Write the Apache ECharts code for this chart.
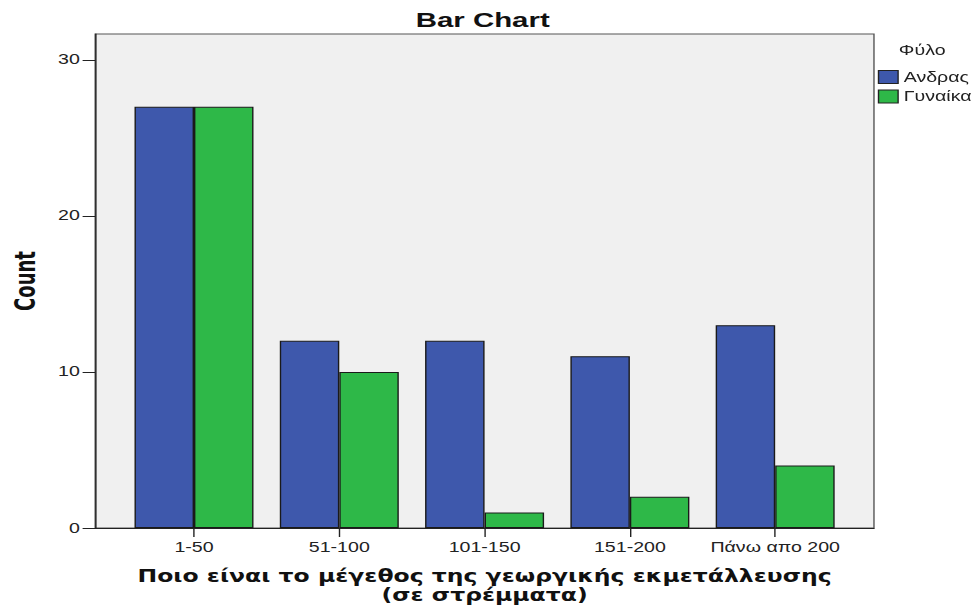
<!DOCTYPE html>
<html>
<head>
<meta charset="utf-8">
<script src="https://cdn.jsdelivr.net/npm/echarts@6/dist/echarts.min.js"></script>
<style>
html,body{margin:0;padding:0;background:#fff;overflow:hidden;}
#c{width:698.571px;height:610px;transform:scaleX(1.4);transform-origin:0 0;}
</style>
</head>
<body>
<div id="c"></div>
<script>
const categories = ['1-50', '51-100', '101-150', '151-200', 'Πάνω απο 200'];
const seriesNames = ['Ανδρας', 'Γυναίκα'];
const maleCounts = [27, 12, 12, 11, 13];
const femaleCounts = [27, 10, 1, 2, 4];
const yTicks = [0, 10, 20, 30];
const catPositions = [0, 1, 2, 3, 4];

const FONT = "'Liberation Sans', Arial, sans-serif";
const chart = echarts.init(document.getElementById('c'), null, {renderer: 'svg', width: 698.571, height: 610});

function toPairs(vals) { return vals.map((v, i) => [catPositions[i], v]); }

chart.setOption({
  animation: false,
  backgroundColor: '#ffffff',
  textStyle: {fontFamily: FONT},
  title: [
    {text: 'Bar Chart', left: 292, top: 4,
     textStyle: {fontFamily: FONT, fontSize: 21, fontWeight: 'bold', color: '#111'}},
    {text: 'Φύλο', left: 637, top: 38,
     textStyle: {fontFamily: FONT, fontSize: 14, fontWeight: 'normal', color: '#222'}}
  ],
  legend: {
    orient: 'vertical', left: 627, top: 70, padding: 0,
    itemWidth: 14, itemHeight: 13, itemGap: 5.5,
    icon: 'rect',
    textStyle: {fontFamily: FONT, fontSize: 14, color: '#222', padding: [0, 0, 0, -1]},
    itemStyle: {borderColor: '#222', borderWidth: 1},
    data: seriesNames
  },
  grid: {
    left: 65, right: 74.3, top: 34, bottom: 81,
    show: true, backgroundColor: '#F0F0F0', borderColor: '#555', borderWidth: 1
  },
  xAxis: {
    type: 'value', min: -0.68, max: 4.68,
    splitLine: {show: false},
    axisLine: {show: true, onZero: false, lineStyle: {color: '#222', width: 1}},
    axisTick: {show: true, length: 9, customValues: catPositions, lineStyle: {color: '#222'}},
    axisLabel: {
      customValues: catPositions, margin: 12,
      fontFamily: FONT, fontSize: 14, color: '#222',
      formatter: v => categories[Math.round(v)]
    },
    name: 'Ποιο είναι το μέγεθος της γεωργικής εκμετάλλευσης\n(σε στρέμματα)',
    nameLocation: 'middle', nameGap: 39,
    nameTextStyle: {fontFamily: "'DejaVu Sans', Verdana, sans-serif", fontSize: 16.8, fontWeight: 'bold', color: '#111', lineHeight: 19}
  },
  yAxis: {
    type: 'value', min: 0, max: 31.66,
    splitLine: {show: false},
    axisLine: {show: true, onZero: false, lineStyle: {color: '#222', width: 1}},
    axisTick: {show: true, length: 9, customValues: yTicks, lineStyle: {color: '#222'}},
    axisLabel: {customValues: yTicks, margin: 11, fontFamily: FONT, fontSize: 14, color: '#222'},
    name: 'Count', nameLocation: 'middle', nameGap: 40, nameRotate: 90,
    nameTextStyle: {fontFamily: "'Liberation Sans Narrow', 'DejaVu Sans Condensed', Arial, sans-serif", fontSize: 20, fontWeight: 'bold', color: '#111'}
  },
  series: [
    {name: seriesNames[0], type: 'bar', data: toPairs(maleCounts), barWidth: 42.5, barGap: '0%',
     itemStyle: {color: '#3E58AC', borderColor: '#1a1a1a', borderWidth: 1}},
    {name: seriesNames[1], type: 'bar', data: toPairs(femaleCounts), barWidth: 42.5, barGap: '0%',
     itemStyle: {color: '#2EB848', borderColor: '#1a1a1a', borderWidth: 1}}
  ]
});
</script>
</body>
</html>
